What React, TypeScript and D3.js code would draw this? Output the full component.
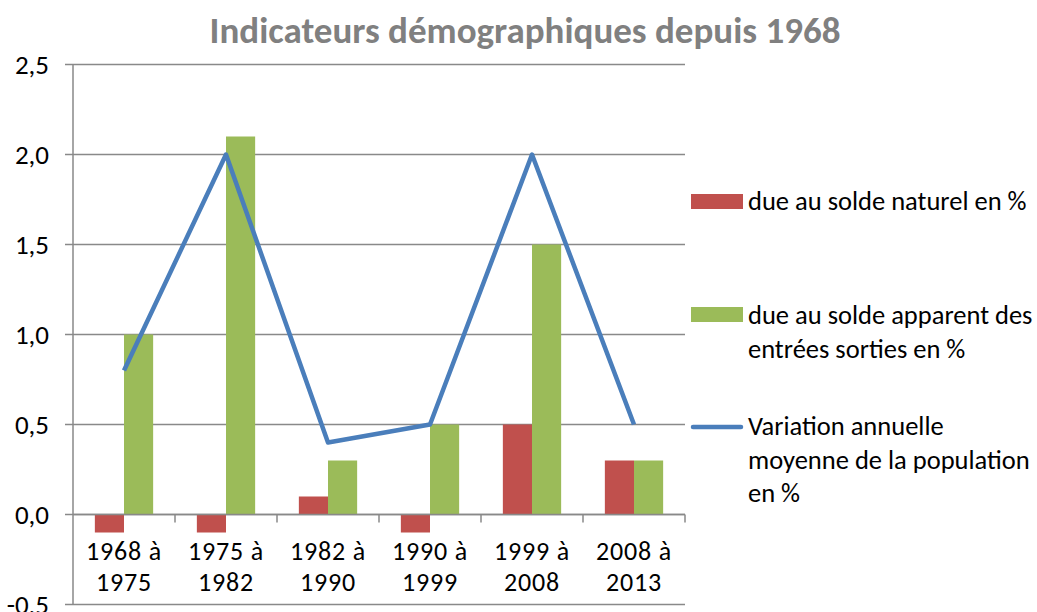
import React from "react";
import * as d3 from "d3";

const categories = ["1968 à 1975", "1975 à 1982", "1982 à 1990", "1990 à 1999", "1999 à 2008", "2008 à 2013"];
const soldeNaturel = [-0.1, -0.1, 0.1, -0.1, 0.5, 0.3];
const soldeApparent = [1.0, 2.1, 0.3, 0.5, 1.5, 0.3];
const variation = [0.8, 2.0, 0.4, 0.5, 2.0, 0.5];
const yTicks = [-0.5, 0, 0.5, 1.0, 1.5, 2.0, 2.5];
const seriesNames = [
  ["due au solde naturel en %"],
  ["due au solde apparent des", "entrées sorties en %"],
  ["Variation annuelle", "moyenne de la population", "en %"],
];
const title = "Indicateurs démographiques depuis 1968";

const RED = "#c0504d";
const GREEN = "#9bbb59";
const BLUE = "#4a7ebb";
const GRID = "#898989";
const FONT = "Carlito, Calibri, Lato, sans-serif";

export default function App() {
  const W = 1037, H = 612;
  const left = 73, right = 685, top = 64.5, bottom = 604.5;
  const x = d3.scaleBand<string>().domain(categories).range([left, right]).paddingInner(0).paddingOuter(0);
  const y = d3.scaleLinear().domain([-0.5, 2.5]).range([bottom, top]);
  const step = x.step();
  const bw = step / 3.5;
  const cx = (c: string) => (x(c) as number) + step / 2;
  const fmt = (v: number) => d3.format(".1f")(v).replace(".", ",").replace("−", "-");
  const line = d3.line<number>().x((_, i) => cx(categories[i])).y((v) => y(v));
  const y0 = y(0);

  return (
    <svg width={W} height={H} style={{ position: "absolute", left: 0, top: 0, background: "#fff" }} fontFamily={FONT}>
      <text x={525} y={43} textAnchor="middle" fontSize={37} fontWeight="bold" fill="#808080">{title}</text>
      {yTicks.map((t) => (
        <g key={t}>
          <line x1={65} x2={right} y1={y(t)} y2={y(t)} stroke={GRID} strokeWidth={1.5} />
          <text x={49} y={y(t)} dy="0.35em" textAnchor="end" fontSize={27} fill="#000">{fmt(t)}</text>
        </g>
      ))}
      <line x1={left} x2={left} y1={top} y2={bottom} stroke={GRID} strokeWidth={1.5} />
      {categories.map((c, i) => (
        <g key={c}>
          <rect x={cx(c) - bw} width={bw} y={Math.min(y(soldeNaturel[i]), y0)} height={Math.abs(y(soldeNaturel[i]) - y0)} fill={RED} />
          <rect x={cx(c)} width={bw} y={Math.min(y(soldeApparent[i]), y0)} height={Math.abs(y(soldeApparent[i]) - y0)} fill={GREEN} />
        </g>
      ))}
      <line x1={left} x2={right} y1={y0} y2={y0} stroke={GRID} strokeWidth={1.5} />
      {categories.map((c) => (
        <line key={"t" + c} x1={(x(c) as number) + step} x2={(x(c) as number) + step} y1={y0} y2={y0 + 8} stroke={GRID} strokeWidth={1.5} />
      ))}
      <path d={line(variation) || ""} fill="none" stroke={BLUE} strokeWidth={4.5} strokeLinejoin="round" />
      {categories.map((c) => {
        const parts = c.split(" à ");
        return (
          <g key={"l" + c}>
            <text x={cx(c)} y={560} textAnchor="middle" fontSize={26} letterSpacing={0.8} fill="#000">{parts[0] + " à"}</text>
            <text x={cx(c)} y={591} textAnchor="middle" fontSize={26} letterSpacing={0.8} fill="#000">{parts[1]}</text>
          </g>
        );
      })}
      {/* legend */}
      <rect x={691} y={194} width={52} height={15} fill={RED} />
      <rect x={691} y={307} width={52} height={15} fill={GREEN} />
      <line x1={693} x2={741} y1={427} y2={427} stroke={BLUE} strokeWidth={4.5} strokeLinecap="round" />
      {[201, 315, 426].map((ly, si) => (
        <text key={"lg" + si} fontSize={26.5} fill="#000">
          {seriesNames[si].map((s, j) => (
            <tspan key={j} x={748} y={ly + j * 33.5} dy="0.35em">{s}</tspan>
          ))}
        </text>
      ))}
    </svg>
  );
}
